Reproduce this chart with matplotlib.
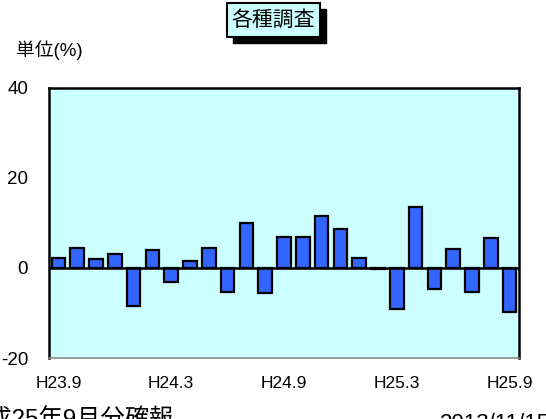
import matplotlib
matplotlib.use("Agg")
from matplotlib import pyplot as plt
from matplotlib.patches import Rectangle
import numpy as np

plt.rcParams["font.family"] = ["Liberation Sans", "Noto Sans CJK JP", "DejaVu Sans"]

# monthly values, H23.9 .. H25.9
months = [
    "H23.9", "H23.10", "H23.11", "H23.12", "H24.1", "H24.2",
    "H24.3", "H24.4", "H24.5", "H24.6", "H24.7", "H24.8",
    "H24.9", "H24.10", "H24.11", "H24.12", "H25.1", "H25.2",
    "H25.3", "H25.4", "H25.5", "H25.6", "H25.7", "H25.8", "H25.9",
]
values = [
    2.2, 4.4, 1.9, 3.1, -8.4, 4.1,
    -3.0, 1.6, 4.4, -5.4, 10.0, -5.6,
    7.0, 7.0, 11.5, 8.7, 2.2, -0.3,
    -9.2, 13.6, -4.6, 4.3, -5.4, 6.7, -9.8,
]
shown_ticks = ["H23.9", "H24.3", "H24.9", "H25.3", "H25.9"]
yticks = [-20, 0, 20, 40]

W, H = 546, 419
fig = plt.figure(figsize=(W / 100, H / 100), dpi=100)
ax = fig.add_axes([49 / W, 1 - 358 / H, 470 / W, 270 / H])
ax.set_facecolor("#ccffff")

x = np.arange(len(values))
ax.bar(x, values, width=0.72, color="#3366ff", edgecolor="black", linewidth=1.6, zorder=3)
ax.axhline(0, color="black", linewidth=1.8, zorder=4)

ax.set_xlim(-0.5, len(values) - 0.5)
ax.set_ylim(-20, 40)
ax.set_yticks(yticks)
ax.set_yticklabels([str(v) for v in yticks], fontsize=13.5)
ax.set_xticks([months.index(m) for m in shown_ticks])
ax.set_xticklabels(shown_ticks, fontsize=12.5)
ax.tick_params(axis="y", length=0, pad=15)
ax.tick_params(axis="x", length=0, pad=13)

for side in ["left", "top", "right"]:
    ax.spines[side].set_color("black")
    ax.spines[side].set_linewidth(1.8)
ax.spines["bottom"].set_color("#888888")
ax.spines["bottom"].set_linewidth(1.2)

# title box with shadow
bx0, by0, bx1, by1 = 227, 3, 320, 37
off = 6
fig.patches.append(Rectangle(((bx0 + off) / W, 1 - (by1 + off) / H), (bx1 - bx0) / W, (by1 - by0) / H,
                             transform=fig.transFigure, facecolor="black", edgecolor="black"))
fig.patches.append(Rectangle((bx0 / W, 1 - by1 / H), (bx1 - bx0) / W, (by1 - by0) / H,
                             transform=fig.transFigure, facecolor="#ccffff", edgecolor="black", linewidth=1.5))
fig.text((bx0 + bx1) / 2 / W, 1 - (by0 + by1) / 2 / H, "各種調査", fontsize=15,
         ha="center", va="center")

fig.text(16 / W, 1 - 50 / H, "単位(%)", fontsize=13.5, ha="left", va="center")

# footer texts run off the bottom edge, as in the original
fig.text(174 / W, 1 - 408 / H, "平成25年9月分確報", fontsize=17.5, ha="right", va="top")
fig.text(440 / W, 1 - 413 / H, "2013/11/15", fontsize=16, ha="left", va="top")

fig.savefig("out.png", dpi=100)
